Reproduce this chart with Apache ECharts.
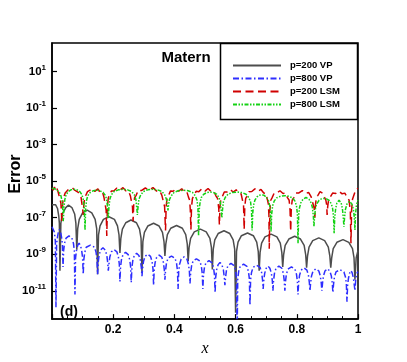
<!DOCTYPE html>
<html>
<head>
<meta charset="utf-8">
<script src="https://cdn.jsdelivr.net/npm/echarts@6/dist/echarts.min.js"></script>
<style>
  html, body { margin: 0; padding: 0; background: #fff; }
  #chart { width: 407px; height: 362px; }
</style>
</head>
<body>
<div id="chart"></div>
<script>
/* ===== data: [x, log10(Error)] ===== */
const seriesNames = ['p=200 VP', 'p=800 VP', 'p=200 LSM', 'p=800 LSM'];
const yTickExp = [-11, -9, -7, -5, -3, -1, 1];

// p=200 VP (grey, solid)
const vp200 = [
  [0, -6.3], [0.006, -6.24], [0.012, -6.3], [0.018, -6.5], [0.022, -6.9], [0.024, -7.3], [0.026, -9.9],
  [0.029, -7.3], [0.034, -6.8], [0.045, -6.45], [0.054, -6.32], [0.065, -6.45], [0.074, -6.8], [0.078, -7.3], [0.081, -8.75],
  [0.084, -7.6], [0.089, -7.1], [0.1, -6.74], [0.115, -6.59], [0.13, -6.74], [0.141, -7.1], [0.146, -7.6], [0.149, -10.1],
  [0.152, -7.95], [0.157, -7.45], [0.168, -7.1], [0.186, -6.95], [0.204, -7.1], [0.214, -7.45], [0.219, -7.95], [0.222, -8.93],
  [0.225, -8.13], [0.23, -7.63], [0.241, -7.28], [0.258, -7.13], [0.276, -7.28], [0.286, -7.63], [0.291, -8.13], [0.294, -10.0],
  [0.297, -8.31], [0.302, -7.81], [0.313, -7.46], [0.332, -7.31], [0.35, -7.46], [0.361, -7.81], [0.366, -8.31], [0.369, -9.1],
  [0.372, -8.43], [0.377, -7.93], [0.388, -7.58], [0.407, -7.43], [0.426, -7.58], [0.437, -7.93], [0.442, -8.43], [0.445, -9.38],
  [0.448, -8.63], [0.453, -8.13], [0.465, -7.78], [0.485, -7.63], [0.504, -7.78], [0.516, -8.13], [0.521, -8.63], [0.524, -9.83],
  [0.527, -8.72], [0.532, -8.22], [0.543, -7.87], [0.562, -7.72], [0.581, -7.87], [0.592, -8.22], [0.597, -8.72], [0.6, -12.2],
  [0.603, -8.84], [0.608, -8.34], [0.619, -7.99], [0.639, -7.84], [0.658, -7.99], [0.669, -8.34], [0.674, -8.84], [0.677, -9.9],
  [0.68, -8.9], [0.685, -8.4], [0.696, -8.05], [0.716, -7.9], [0.735, -8.05], [0.746, -8.4], [0.751, -8.9], [0.754, -9.7],
  [0.757, -9.02], [0.762, -8.52], [0.774, -8.17], [0.793, -8.02], [0.812, -8.17], [0.824, -8.52], [0.829, -9.02], [0.832, -9.74],
  [0.835, -9.11], [0.84, -8.61], [0.852, -8.26], [0.872, -8.11], [0.891, -8.26], [0.903, -8.61], [0.908, -9.11], [0.911, -9.74],
  [0.914, -9.2], [0.919, -8.7], [0.931, -8.35], [0.951, -8.2], [0.97, -8.35], [0.982, -8.7], [0.987, -9.2], [0.99, -10.4],
  [0.994, -9.2], [1.0, -8.8]
];

// p=800 VP (blue, dash-dot)
const vp800 = [
  [0, -7.5], [0.005, -7.55], [0.008, -7.8], [0.011, -8.3], [0.013, -11.9],
  [0.015, -8.45], [0.018, -8.05], [0.021, -7.77], [0.0245, -7.65], [0.028, -7.77], [0.031, -8.05], [0.034, -8.45], [0.036, -9.7],
  [0.038, -8.8], [0.041, -8.4], [0.046, -8.12], [0.0555, -8.0], [0.065, -8.12], [0.07, -8.4], [0.073, -8.8], [0.075, -11.2],
  [0.077, -9.2], [0.08, -8.8], [0.084, -8.52], [0.0885, -8.4], [0.093, -8.52], [0.097, -8.8], [0.1, -9.2], [0.102, -10.1],
  [0.104, -9.3], [0.107, -8.9], [0.112, -8.62], [0.1255, -8.5], [0.139, -8.62], [0.144, -8.9], [0.147, -9.3], [0.149, -10.1],
  [0.151, -9.45], [0.154, -9.05], [0.159, -8.77], [0.1665, -8.65], [0.174, -8.77], [0.179, -9.05], [0.182, -9.45], [0.184, -9.9],
  [0.186, -9.55], [0.189, -9.15], [0.194, -8.87], [0.203, -8.75], [0.212, -8.87], [0.217, -9.15], [0.22, -9.55], [0.222, -10.5],
  [0.224, -9.7], [0.227, -9.3], [0.232, -9.02], [0.2405, -8.9], [0.249, -9.02], [0.254, -9.3], [0.257, -9.7], [0.259, -10.55],
  [0.261, -9.75], [0.264, -9.35], [0.269, -9.07], [0.2765, -8.95], [0.284, -9.07], [0.289, -9.35], [0.292, -9.75], [0.294, -10.2],
  [0.296, -9.8], [0.299, -9.4], [0.304, -9.12], [0.313, -9.0], [0.322, -9.12], [0.327, -9.4], [0.33, -9.8], [0.332, -10.7],
  [0.334, -9.85], [0.337, -9.45], [0.342, -9.17], [0.3505, -9.05], [0.359, -9.17], [0.364, -9.45], [0.367, -9.85], [0.369, -10.4],
  [0.371, -9.9], [0.374, -9.5], [0.379, -9.22], [0.3905, -9.1], [0.402, -9.22], [0.407, -9.5], [0.41, -9.9], [0.412, -10.9],
  [0.414, -9.95], [0.417, -9.55], [0.422, -9.27], [0.4315, -9.15], [0.441, -9.27], [0.446, -9.55], [0.449, -9.95], [0.451, -10.6],
  [0.453, -10.05], [0.456, -9.65], [0.461, -9.37], [0.472, -9.25], [0.483, -9.37], [0.488, -9.65], [0.491, -10.05], [0.493, -10.9],
  [0.495, -10.15], [0.498, -9.75], [0.503, -9.47], [0.513, -9.35], [0.523, -9.47], [0.528, -9.75], [0.531, -10.15], [0.533, -11.1],
  [0.535, -10.25], [0.538, -9.85], [0.543, -9.57], [0.549, -9.45], [0.555, -9.57], [0.56, -9.85], [0.563, -10.25], [0.565, -10.7],
  [0.567, -10.3], [0.57, -9.9], [0.575, -9.62], [0.585, -9.5], [0.595, -9.62], [0.6, -9.9], [0.603, -10.3], [0.605, -13.5],
  [0.607, -10.35], [0.61, -9.95], [0.615, -9.67], [0.626, -9.55], [0.637, -9.67], [0.642, -9.95], [0.645, -10.35], [0.647, -11.8],
  [0.649, -10.4], [0.652, -10.0], [0.657, -9.72], [0.6685, -9.6], [0.68, -9.72], [0.685, -10.0], [0.688, -10.4], [0.69, -10.9],
  [0.692, -10.45], [0.695, -10.05], [0.7, -9.77], [0.706, -9.65], [0.712, -9.77], [0.717, -10.05], [0.72, -10.45], [0.722, -11.0],
  [0.724, -10.45], [0.727, -10.05], [0.732, -9.77], [0.7415, -9.65], [0.751, -9.77], [0.756, -10.05], [0.759, -10.45], [0.761, -11.0],
  [0.763, -10.5], [0.766, -10.1], [0.771, -9.82], [0.7825, -9.7], [0.794, -9.82], [0.799, -10.1], [0.802, -10.5], [0.804, -11.2],
  [0.806, -10.55], [0.809, -10.15], [0.814, -9.87], [0.8235, -9.75], [0.833, -9.87], [0.838, -10.15], [0.841, -10.55], [0.843, -11.0],
  [0.845, -10.6], [0.848, -10.2], [0.853, -9.92], [0.8625, -9.8], [0.872, -9.92], [0.877, -10.2], [0.88, -10.6], [0.882, -11.0],
  [0.884, -10.6], [0.887, -10.2], [0.892, -9.92], [0.9, -9.8], [0.908, -9.92], [0.913, -10.2], [0.916, -10.6], [0.918, -11.1],
  [0.92, -10.65], [0.923, -10.25], [0.928, -9.97], [0.941, -9.85], [0.954, -9.97], [0.959, -10.25], [0.962, -10.65], [0.964, -11.6],
  [0.966, -10.7], [0.969, -10.3], [0.973, -10.02], [0.977, -9.9], [0.981, -10.02], [0.985, -10.3], [0.988, -10.7], [0.99, -11.0],
  [0.993, -10.3], [0.996, -10.05], [1.0, -9.95]
];

// p=200 LSM (red, dashed, noisy)
const lsm200 = [
  [0, -5.38], [0.004, -5.5], [0.008, -5.32], [0.012, -5.52], [0.016, -5.4], [0.02, -5.6], [0.024, -5.7], [0.027, -6.05], [0.029, -6.2], [0.031, -6.8], [0.032, -7.3],
  [0.034, -6.5], [0.036, -6.0], [0.039, -5.95], [0.043, -5.65], [0.048, -5.62], [0.054, -5.45], [0.06, -5.5], [0.067, -5.38], [0.074, -5.5], [0.08, -5.42], [0.086, -5.62], [0.091, -5.66], [0.095, -5.9], [0.098, -6.0], [0.1, -6.5], [0.102, -6.85],
  [0.104, -6.3], [0.107, -5.9], [0.111, -5.85], [0.116, -5.58], [0.122, -5.62], [0.13, -5.44], [0.14, -5.56], [0.15, -5.43], [0.158, -5.64], [0.165, -5.6], [0.17, -5.9], [0.174, -6.0], [0.177, -6.6], [0.179, -8.0],
  [0.181, -6.4], [0.184, -5.92], [0.188, -5.82], [0.194, -5.55], [0.202, -5.54], [0.212, -5.38], [0.222, -5.5], [0.232, -5.36], [0.242, -5.55], [0.25, -5.55], [0.256, -5.8], [0.26, -5.9], [0.263, -6.4], [0.265, -7.2],
  [0.267, -6.3], [0.27, -5.9], [0.275, -5.78], [0.282, -5.5], [0.292, -5.52], [0.305, -5.38], [0.318, -5.5], [0.33, -5.36], [0.342, -5.55], [0.352, -5.53], [0.359, -5.78], [0.364, -5.85], [0.368, -6.4], [0.371, -7.7],
  [0.373, -6.4], [0.376, -5.95], [0.38, -5.82], [0.387, -5.55], [0.396, -5.56], [0.405, -5.42], [0.414, -5.56], [0.424, -5.42], [0.433, -5.6], [0.441, -5.6], [0.446, -5.88], [0.45, -6.05], [0.452, -6.6], [0.454, -7.65],
  [0.456, -6.4], [0.459, -5.95], [0.464, -5.85], [0.471, -5.56], [0.48, -5.58], [0.49, -5.42], [0.5, -5.55], [0.51, -5.41], [0.52, -5.58], [0.529, -5.56], [0.536, -5.82], [0.541, -5.95], [0.545, -6.5], [0.547, -7.4],
  [0.549, -6.4], [0.552, -6.0], [0.556, -5.88], [0.563, -5.6], [0.572, -5.6], [0.582, -5.46], [0.592, -5.6], [0.602, -5.48], [0.611, -5.67], [0.618, -5.7], [0.623, -6.08], [0.626, -6.35], [0.628, -7.65],
  [0.63, -6.4], [0.633, -5.95], [0.637, -5.84], [0.644, -5.58], [0.653, -5.57], [0.663, -5.43], [0.673, -5.57], [0.683, -5.46], [0.692, -5.65], [0.699, -5.68], [0.704, -6.02], [0.707, -6.25], [0.709, -6.9], [0.71, -8.7],
  [0.712, -6.6], [0.715, -6.05], [0.719, -5.92], [0.726, -5.66], [0.735, -5.65], [0.745, -5.53], [0.755, -5.68], [0.763, -5.66], [0.77, -5.92], [0.775, -6.05], [0.778, -6.6], [0.78, -7.75],
  [0.782, -6.5], [0.785, -6.05], [0.79, -5.92], [0.797, -5.66], [0.807, -5.65], [0.818, -5.52], [0.829, -5.67], [0.839, -5.63], [0.847, -5.87], [0.853, -5.95], [0.857, -6.5], [0.859, -7.0],
  [0.861, -6.3], [0.864, -5.9], [0.869, -5.78], [0.876, -5.58], [0.884, -5.66], [0.89, -5.7], [0.895, -6.05], [0.898, -6.35], [0.899, -6.86],
  [0.901, -6.4], [0.904, -6.0], [0.909, -5.88], [0.917, -5.66], [0.927, -5.68], [0.938, -5.56], [0.948, -5.7], [0.957, -5.66], [0.965, -5.9], [0.971, -6.05], [0.975, -6.7], [0.977, -8.4],
  [0.979, -6.6], [0.982, -6.0], [0.987, -5.75], [0.993, -5.45], [1.0, -5.4]
];

// p=800 LSM (green, dash-dot-dot)
const lsm800 = [
  [0, -5.4], [0.008, -5.42], [0.016, -5.5], [0.024, -5.62], [0.029, -5.8], [0.033, -6.1], [0.035, -6.5], [0.037, -7.2],
  [0.039, -6.45], [0.042, -6.0], [0.046, -5.75], [0.053, -5.58], [0.062, -5.48], [0.072, -5.45], [0.082, -5.48], [0.091, -5.58], [0.098, -5.75], [0.102, -6.0], [0.105, -6.45], [0.108, -7.67],
  [0.11, -6.5], [0.113, -6.05], [0.117, -5.8], [0.125, -5.62], [0.135, -5.53], [0.146, -5.5], [0.157, -5.53], [0.167, -5.62], [0.175, -5.8], [0.179, -6.05], [0.182, -6.5], [0.184, -7.04],
  [0.186, -6.45], [0.189, -6.0], [0.194, -5.75], [0.203, -5.57], [0.217, -5.48], [0.232, -5.45], [0.247, -5.48], [0.26, -5.57], [0.269, -5.75], [0.274, -6.0], [0.277, -6.45], [0.279, -6.86],
  [0.281, -6.45], [0.284, -6.0], [0.29, -5.75], [0.299, -5.57], [0.313, -5.48], [0.329, -5.45], [0.345, -5.48], [0.359, -5.57], [0.368, -5.75], [0.374, -6.0], [0.377, -6.3], [0.379, -6.6],
  [0.381, -6.3], [0.384, -6.0], [0.39, -5.8], [0.399, -5.62], [0.413, -5.53], [0.429, -5.5], [0.445, -5.53], [0.459, -5.62], [0.468, -5.8], [0.474, -6.05], [0.477, -6.5], [0.479, -8.0],
  [0.481, -6.6], [0.484, -6.15], [0.488, -5.9], [0.496, -5.72], [0.506, -5.63], [0.517, -5.6], [0.528, -5.63], [0.538, -5.72], [0.546, -5.9], [0.55, -6.15], [0.553, -6.6], [0.555, -7.0],
  [0.557, -6.6], [0.56, -6.15], [0.566, -5.9], [0.575, -5.72], [0.589, -5.63], [0.605, -5.6], [0.621, -5.63], [0.634, -5.72], [0.643, -5.9], [0.649, -6.15], [0.652, -6.6], [0.654, -7.7],
  [0.656, -6.75], [0.659, -6.3], [0.663, -6.05], [0.67, -5.87], [0.677, -5.78], [0.685, -5.75], [0.693, -5.78], [0.7, -5.87], [0.707, -6.05], [0.711, -6.3], [0.714, -6.75], [0.716, -7.76],
  [0.718, -6.8], [0.721, -6.35], [0.726, -6.1], [0.734, -5.92], [0.747, -5.83], [0.76, -5.8], [0.773, -5.83], [0.786, -5.92], [0.794, -6.1], [0.799, -6.35], [0.802, -6.8], [0.804, -8.4],
  [0.806, -6.9], [0.809, -6.45], [0.813, -6.2], [0.82, -6.0], [0.83, -5.9], [0.84, -6.0], [0.847, -6.2], [0.851, -6.45], [0.854, -6.9], [0.856, -7.5],
  [0.858, -6.95], [0.861, -6.5], [0.865, -6.25], [0.873, -6.05], [0.881, -5.97], [0.889, -5.95], [0.897, -5.97], [0.905, -6.05], [0.913, -6.25], [0.917, -6.5], [0.92, -6.95], [0.922, -7.85],
  [0.924, -7.0], [0.927, -6.5], [0.931, -6.2], [0.938, -6.05], [0.945, -6.2], [0.949, -6.5], [0.952, -7.0], [0.954, -7.5],
  [0.956, -7.0], [0.959, -6.55], [0.964, -6.25], [0.972, -6.1], [0.98, -6.25], [0.985, -6.55], [0.988, -7.0], [0.99, -7.67],
  [0.992, -6.8], [0.995, -6.3], [1.0, -6.05]
];

/* ===== styles ===== */
const FONT = '"Liberation Sans", Arial, Helvetica, sans-serif';
const lineStyles = [
  { color: '#4d4d4d', width: 1.5, type: 'solid' },
  { color: '#2e2eff', width: 1.5, type: [6, 2.5, 1.5, 2.5] },
  { color: '#d00000', width: 1.5, type: [8, 4.5] },
  { color: '#14d214', width: 1.5, type: [4, 1.5, 1.5, 1.5, 1.5, 1.5] }
];
const dataSets = [vp200, vp800, lsm200, lsm800];

const chart = echarts.init(document.getElementById('chart'), null, { renderer: 'canvas' });
chart.setOption({
  animation: false,
  backgroundColor: '#fff',
  grid: { left: 52, right: 49, top: 43, bottom: 40, show: true, borderColor: '#000', borderWidth: 1.5 },
  xAxis: {
    type: 'value', min: 0, max: 1, interval: 0.2,
    name: 'x', nameLocation: 'middle', nameGap: 13,
    nameTextStyle: { fontFamily: '"Liberation Serif", "Times New Roman", serif', fontStyle: 'italic', fontSize: 16, color: '#000' },
    axisLine: { onZero: false, lineStyle: { color: '#000', width: 1.5 } },
    axisTick: { inside: true, length: 5, lineStyle: { color: '#000', width: 1.2 } },
    minorTick: { show: true, splitNumber: 4, length: 3, lineStyle: { color: '#000', width: 1 } },
    splitLine: { show: false },
    axisLabel: {
      margin: 5, color: '#000', fontSize: 12, fontWeight: 'bold', fontFamily: FONT,
      formatter: v => (v === 0 ? '' : String(v))
    }
  },
  yAxis: {
    type: 'value', min: -12.55, max: 2.55,
    axisLine: { onZero: false, lineStyle: { color: '#000', width: 1.5 } },
    axisTick: { inside: true, length: 5, customValues: yTickExp, lineStyle: { color: '#000', width: 1.2 } },
    splitLine: { show: false },
    axisLabel: {
      customValues: yTickExp, margin: 6,
      formatter: v => '{b|10}{s|' + v + '}',
      rich: {
        b: { fontSize: 11.5, fontWeight: 'bold', fontFamily: FONT, color: '#000' },
        s: { fontSize: 8, fontWeight: 'bold', fontFamily: FONT, color: '#000', padding: [0, 0, 8, 0] }
      }
    }
  },
  legend: {
    orient: 'vertical', left: 232, top: 60.5, padding: 0,
    itemWidth: 48, itemHeight: 10, itemGap: 3,
    itemStyle: { opacity: 0 },
    textStyle: { fontSize: 9.5, fontWeight: 'bold', color: '#000', fontFamily: FONT, padding: [0, 0, 0, 4] },
    data: seriesNames
  },
  graphic: [
    { type: 'rect', z: 1, shape: { x: 220.5, y: 43.5, width: 137, height: 76 },
      style: { fill: '#fff', stroke: '#000', lineWidth: 1.5 } },
    { type: 'text', x: 186, y: 58, style: { text: 'Matern', font: 'bold 15px ' + FONT, fill: '#000', textAlign: 'center', textVerticalAlign: 'middle' } },
    { type: 'text', x: 69, y: 312, style: { text: '(d)', font: 'bold 14px ' + FONT, fill: '#000', textAlign: 'center', textVerticalAlign: 'middle' } },
    { type: 'text', x: 16, y: 174, rotation: Math.PI / 2,
      style: { text: 'Error', font: 'bold 16px ' + FONT, fill: '#000', textAlign: 'center', textVerticalAlign: 'middle' } }
  ],
  series: dataSets.map((d, i) => ({
    name: seriesNames[i],
    type: 'line',
    data: d,
    symbol: 'none',
    lineStyle: lineStyles[i],
    itemStyle: { color: lineStyles[i].color },
    z: 2 + i
  }))
});
</script>
</body>
</html>
